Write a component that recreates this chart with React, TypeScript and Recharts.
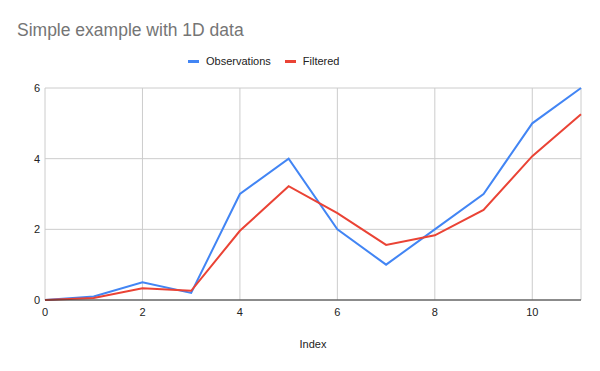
import React from 'react';
import { LineChart, Line, XAxis, YAxis, CartesianGrid } from 'recharts';

const indexes = [0, 1, 2, 3, 4, 5, 6, 7, 8, 9, 10, 11];
const observations = [0, 0.1, 0.5, 0.2, 3, 4, 2, 1, 2, 3, 5, 6];
const filtered = [0, 0.06, 0.33, 0.26, 1.96, 3.22, 2.46, 1.56, 1.83, 2.55, 4.07, 5.26];
const xTicks = [0, 2, 4, 6, 8, 10];
const yTicks = [0, 2, 4, 6];

const data = indexes.map((i, k) => ({
  index: i,
  observations: observations[k],
  filtered: filtered[k],
}));

const font = 'Arial, "Liberation Sans", sans-serif';

function LegendItem({ color, label }: { color: string; label: string }) {
  return (
    <span style={{ display: 'inline-flex', alignItems: 'center', marginRight: 14 }}>
      <span style={{ width: 11, height: 3, background: color, marginRight: 7, display: 'inline-block' }} />
      <span>{label}</span>
    </span>
  );
}

export default function App() {
  return (
    <div style={{ position: 'fixed', left: 0, top: 0, width: 600, height: 371, background: '#fff', fontFamily: font }}>
      <div style={{ position: 'absolute', left: 17, top: 20, fontSize: 17.5, color: '#757575', whiteSpace: 'nowrap' }}>
        Simple example with 1D data
      </div>
      <div
        style={{
          position: 'absolute',
          left: 188,
          top: 55,
          fontSize: 11,
          color: '#222',
          display: 'flex',
          whiteSpace: 'nowrap',
        }}
      >
        <LegendItem color="#4285F4" label="Observations" />
        <LegendItem color="#EA4335" label="Filtered" />
      </div>
      <LineChart
        width={600}
        height={371}
        data={data}
        margin={{ top: 88, right: 19, left: 0, bottom: 41 }}
      >
        <CartesianGrid stroke="#cccccc" />
        <XAxis
          dataKey="index"
          type="number"
          domain={[0, 11]}
          ticks={xTicks}
          height={30}
          tickLine={false}
          axisLine={{ stroke: '#333333' }}
          tick={{ fill: '#222', fontSize: 11, fontFamily: font }}
        />
        <YAxis
          type="number"
          domain={[0, 6]}
          ticks={yTicks}
          width={45}
          tickSize={3}
          tickLine={false}
          axisLine={false}
          tick={{ fill: '#222', fontSize: 11, fontFamily: font }}
        />
        <Line
          dataKey="observations"
          stroke="#4285F4"
          strokeWidth={2}
          dot={false}
          isAnimationActive={false}
        />
        <Line
          dataKey="filtered"
          stroke="#EA4335"
          strokeWidth={2}
          dot={false}
          isAnimationActive={false}
        />
      </LineChart>
      <div style={{ position: 'absolute', left: 313, top: 338, transform: 'translateX(-50%)', fontSize: 11, color: '#222' }}>
        Index
      </div>
    </div>
  );
}
